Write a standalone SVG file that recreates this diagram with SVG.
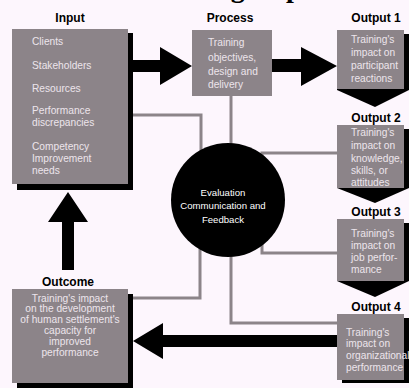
<svg xmlns="http://www.w3.org/2000/svg" width="409" height="388" viewBox="0 0 409 388">
<defs>
<style>
.bg{fill:#fdf6fd}
.box{fill:#8c8489}
.sh{fill:#000}
.lbl{font-family:"Liberation Sans",Arial,sans-serif;font-weight:bold;font-size:12px;fill:#000;text-anchor:middle}
.t{font-family:"Liberation Sans",Arial,sans-serif;font-size:10.2px;fill:#ece4ec}
.tc{font-family:"Liberation Sans",Arial,sans-serif;font-size:10.2px;fill:#ece4ec;text-anchor:middle}
.ct{font-family:"Liberation Sans",Arial,sans-serif;font-size:9.6px;fill:#fff;text-anchor:middle}
.ttl{font-family:"Liberation Serif","Times New Roman",serif;font-weight:bold;font-size:28px;fill:#000}
.conn{fill:none;stroke:#8c8489;stroke-width:3}
.arr{fill:#000}
</style>
</defs>
<rect class="bg" x="0" y="0" width="409" height="388"/>
<text class="ttl" x="141" y="-3">Training Impact</text>

<g id="connectors">
<path class="conn" d="M132,115 H201 V155"/>
<path class="conn" d="M231,96 V146"/>
<path class="conn" d="M337,153 H262 V160"/>
<path class="conn" d="M337,253 H262 V240"/>
<path class="conn" d="M231,250 V323 H337"/>
<path class="conn" d="M200,245 V298 H133"/>
<polygon class="arr" points="132,60 160,60 160,47 192,66 160,85 160,72 132,72"/>
<polygon class="arr" points="272,59 301,59 301,47 337,66 301,86 301,72 272,72"/>
<polygon class="arr" points="62,270 62,222 48,222 68,192 88,222 74,222 74,270"/>
<polygon class="arr" points="337,335 163,335 163,323 133,341 163,359 163,347 337,347"/>
</g>

<g id="input">
<text class="lbl" x="70" y="22">Input</text>
<rect class="sh" x="17" y="33" width="116" height="157"/>
<rect class="box" x="12" y="29" width="116" height="155"/>
<text class="t" x="32" y="45">Clients</text>
<text class="t" x="32" y="69">Stakeholders</text>
<text class="t" x="32" y="92">Resources</text>
<text class="t" x="32" y="114">Performance</text>
<text class="t" x="32" y="126">discrepancies</text>
<text class="t" x="32" y="150">Competency</text>
<text class="t" x="32" y="162">Improvement</text>
<text class="t" x="32" y="174">needs</text>
</g>

<g id="process">
<text class="lbl" x="230" y="22">Process</text>
<rect class="box" x="192" y="30" width="80" height="66"/>
<text class="t" x="208" y="46">Training</text>
<text class="t" x="208" y="61">objectives,</text>
<text class="t" x="208" y="75">design and</text>
<text class="t" x="208" y="88">delivery</text>
</g>

<g id="output1">
<text class="lbl" x="376" y="22">Output 1</text>
<polygon class="sh" points="342,34 409,34 409,90 375,107 337,90"/>
<rect class="box" x="337" y="30" width="67" height="59"/>
<text class="t" x="351" y="43">Training's</text>
<text class="t" x="351" y="56">impact on</text>
<text class="t" x="351" y="69">participant</text>
<text class="t" x="351" y="82">reactions</text>
</g>

<g id="output2">
<text class="lbl" x="376" y="122">Output 2</text>
<polygon class="sh" points="342,129 409,129 409,188 375,203 337,188"/>
<rect class="box" x="337" y="125" width="67" height="63"/>
<text class="t" x="351" y="136">Training's</text>
<text class="t" x="351" y="149">impact on</text>
<text class="t" x="351" y="162">knowledge,</text>
<text class="t" x="351" y="174">skills, or</text>
<text class="t" x="351" y="186">attitudes</text>
</g>

<g id="output3">
<text class="lbl" x="376" y="216">Output 3</text>
<polygon class="sh" points="342,223 409,223 409,281 375,297 337,281"/>
<rect class="box" x="337" y="219" width="67" height="62"/>
<text class="t" x="351" y="237">Training's</text>
<text class="t" x="351" y="249">impact on</text>
<text class="t" x="351" y="261">job perfor-</text>
<text class="t" x="351" y="273">mance</text>
</g>

<g id="output4">
<text class="lbl" x="376" y="311">Output 4</text>
<rect class="sh" x="342" y="318" width="67" height="65"/>
<rect class="box" x="337" y="314" width="67" height="66"/>
<text class="t" x="346" y="336">Training's</text>
<text class="t" x="346" y="347">impact on</text>
<text class="t" x="346" y="359">organizational</text>
<text class="t" x="346" y="371">performance</text>
</g>

<g id="evaluation">
<circle cx="228" cy="200" r="57" fill="#000"/>
<text class="ct" x="223" y="196">Evaluation</text>
<text class="ct" x="223" y="209">Communication and</text>
<text class="ct" x="223" y="223">Feedback</text>
</g>

<g id="outcome">
<text class="lbl" x="68" y="286">Outcome</text>
<rect class="sh" x="17" y="294" width="116" height="94"/>
<rect class="box" x="12" y="289" width="116" height="94"/>
<text class="tc" x="70" y="302">Training's impact</text>
<text class="tc" x="70" y="312">on the development</text>
<text class="tc" x="70" y="323">of human settlement's</text>
<text class="tc" x="70" y="334">capacity for</text>
<text class="tc" x="70" y="345">improved</text>
<text class="tc" x="70" y="356">performance</text>
</g>
</svg>
